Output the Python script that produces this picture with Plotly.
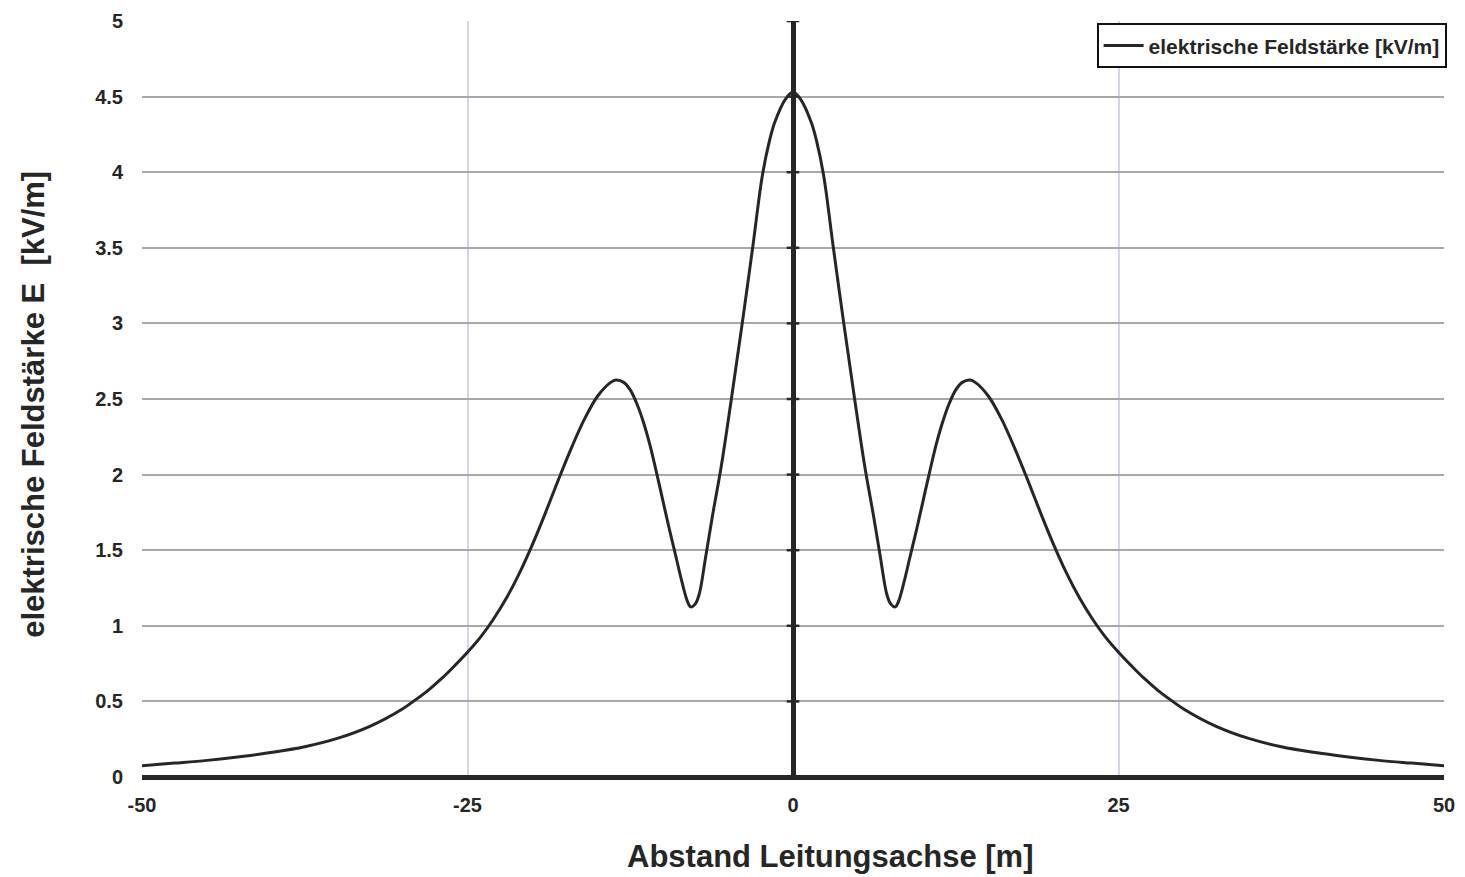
import plotly.graph_objects as go

# Distance from line axis [m]
x_m = [-50, -47.5, -45, -42.5, -40, -37.5, -35, -32.5, -30, -29, -28, -27, -26, -25, -24, -23, -22,
       -21, -20, -19, -18, -17, -16, -15, -14, -13.6, -13, -12.5, -12, -11.5, -11, -10.5, -10,
       -9.5, -9, -8.5, -8.1, -7.85, -7.5, -7.2, -6.7, -6.2, -5.5, -4.7, -3.9, -3.1, -2.35, -1.8,
       -1.4, -0.6, 0,
       0.6, 1.4, 1.8, 2.35, 3.1, 3.9, 4.7, 5.5, 6.2, 6.7, 7.2, 7.5, 7.85, 8.1, 8.5, 9, 9.5, 10,
       10.5, 11, 11.5, 12, 12.5, 13, 13.6, 14, 15, 16, 17, 18, 19, 20, 21, 22, 23, 24, 25, 26, 27,
       28, 29, 30, 32.5, 35, 37.5, 40, 42.5, 45, 47.5, 50]
# Electric field strength [kV/m]
e_kvm = [0.075, 0.092, 0.11, 0.134, 0.163, 0.2, 0.255, 0.335, 0.45, 0.51, 0.575, 0.65, 0.735, 0.825,
         0.925, 1.045, 1.185, 1.35, 1.54, 1.75, 1.97, 2.18, 2.37, 2.52, 2.61, 2.625, 2.61, 2.56,
         2.47, 2.35, 2.2, 2.02, 1.83, 1.64, 1.46, 1.28, 1.16, 1.125, 1.145, 1.21, 1.46, 1.72, 2.06,
         2.52, 3.0, 3.5, 3.98, 4.21, 4.33, 4.48, 4.53,
         4.48, 4.33, 4.21, 3.98, 3.5, 3.0, 2.52, 2.06, 1.72, 1.46, 1.21, 1.145, 1.125, 1.16, 1.28,
         1.46, 1.64, 1.83, 2.02, 2.2, 2.35, 2.47, 2.56, 2.61, 2.625, 2.61, 2.52, 2.37, 2.18, 1.97,
         1.75, 1.54, 1.35, 1.185, 1.045, 0.925, 0.825, 0.735, 0.65, 0.575, 0.51, 0.45, 0.335, 0.255,
         0.2, 0.163, 0.134, 0.11, 0.092, 0.075]

y_ticks = [0, 0.5, 1, 1.5, 2, 2.5, 3, 3.5, 4, 4.5, 5]
y_tick_labels = ["0", "0.5", "1", "1.5", "2", "2.5", "3", "3.5", "4", "4.5", "5"]
x_ticks = [-50, -25, 0, 25, 50]
x_tick_labels = ["-50", "-25", "0", "25", "50"]

series_name = "elektrische Feldstärke [kV/m]"
x_title = "Abstand Leitungsachse [m]"
y_title = "elektrische Feldstärke E  [kV/m]"

FONT = "Liberation Sans, Arial, sans-serif"
DARK = "#262626"

fig = go.Figure()

# small tick marks on the vertical axis drawn at x=0
fig.add_trace(go.Scatter(
    x=[0] * len(y_ticks), y=y_ticks, mode="markers", showlegend=False, hoverinfo="skip",
    marker=dict(symbol="line-ew", size=9, line=dict(width=2.5, color=DARK)),
))

fig.add_trace(go.Scatter(
    x=x_m, y=e_kvm, mode="lines", name=series_name,
    line=dict(color=DARK, width=3, shape="spline", smoothing=1.0),
))

fig.update_layout(
    width=1465, height=877,
    margin=dict(l=142, r=10, t=18, b=100),
    paper_bgcolor="white", plot_bgcolor="white",
    font=dict(family=FONT, color=DARK),
    showlegend=True,
    legend=dict(
        x=1.002, y=0.997, xanchor="right", yanchor="top",
        bgcolor="white", bordercolor="#111111", borderwidth=2,
        font=dict(family=FONT, size=21, color=DARK, weight="bold"),
        itemwidth=40, tracegroupgap=0,
    ),
    xaxis=dict(
        range=[-50, 50], tickvals=x_ticks, ticktext=x_tick_labels,
        showgrid=True, gridcolor="#d4d4ea", gridwidth=1.5,
        zeroline=True, zerolinecolor=DARK, zerolinewidth=5,
        showline=False, ticks="", ticklabelstandoff=14,
        tickfont=dict(family=FONT, size=20, color=DARK, weight="bold"),
    ),
    yaxis=dict(
        range=[0, 5], tickvals=y_ticks, ticktext=y_tick_labels,
        showgrid=True, gridcolor="#a8a8a8", gridwidth=1.5,
        zeroline=True, zerolinecolor=DARK, zerolinewidth=5,
        showline=False, ticks="", ticklabelstandoff=18,
        tickfont=dict(family=FONT, size=20, color=DARK, weight="bold"),
    ),
    annotations=[
        dict(text=x_title, xref="paper", yref="paper", x=0.5287, y=-0.1057,
             xanchor="center", yanchor="middle", showarrow=False,
             font=dict(family=FONT, size=31, color=DARK, weight="bold")),
        dict(text=y_title, xref="paper", yref="paper", x=-0.0835, y=0.4927,
             xanchor="center", yanchor="middle", showarrow=False, textangle=-90,
             font=dict(family=FONT, size=31, color=DARK, weight="bold")),
    ],
)

fig.write_html("out.html")
